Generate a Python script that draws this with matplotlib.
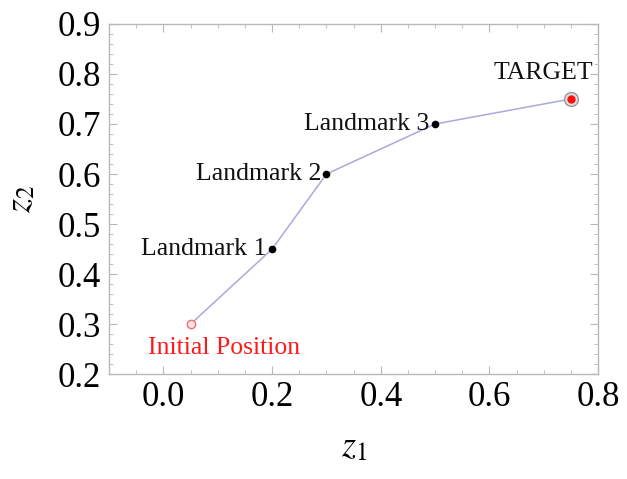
import matplotlib
matplotlib.use("Agg")
import matplotlib.pyplot as plt
from matplotlib.ticker import MultipleLocator

# path through the landmarks
z1 = [0.05, 0.2, 0.3, 0.5, 0.75]
z2 = [0.30, 0.45, 0.6, 0.7, 0.75]
names = ["Initial Position", "Landmark 1", "Landmark 2", "Landmark 3", "TARGET"]

plt.rcParams.update({
    "font.family": ["Liberation Serif", "DejaVu Serif"],
    "mathtext.fontset": "stix",
})

frame = "#b8b8b8"
fig = plt.figure(figsize=(6.27, 4.79), dpi=100)
ax = fig.add_axes([0.174, 0.219, 0.780, 0.731])

ax.plot(z1, z2, "-", color="#a9a9dd", lw=1.1, zorder=2)

# landmarks
ax.plot(z1[1:4], z2[1:4], "o", color="black", ms=4.5, zorder=3)
# start point: small open red circle
ax.plot(z1[0], z2[0], "o", mfc="#fde3e3", mec="#f07070", mew=1.0, ms=6, zorder=3)
# target: red dot with grey ring
ax.plot(z1[-1], z2[-1], "o", mfc="#dddddd", mec="#999999", mew=1.0, ms=10, zorder=3)
ax.plot(z1[-1], z2[-1], "o", color="#ff1010", ms=5, zorder=4)

lab_fs = 18.5
for i in (1, 2, 3):
    ax.annotate(names[i], (z1[i], z2[i]), xytext=(-4, 0), textcoords="offset points",
                ha="right", va="center", fontsize=lab_fs, color="#111111")
ax.annotate(names[0], (z1[0], z2[0]), xytext=(24, -17), textcoords="offset points",
            ha="center", va="center", fontsize=lab_fs, color="#ff1a1a")
ax.annotate(names[4], (z1[4], z2[4]), xytext=(-20, 19), textcoords="offset points",
            ha="center", va="center", fontsize=lab_fs, color="#111111")

ax.set_xlim(-0.1, 0.8)
ax.set_ylim(0.2, 0.9)
ax.xaxis.set_major_locator(MultipleLocator(0.2))
ax.xaxis.set_minor_locator(MultipleLocator(0.05))
ax.yaxis.set_major_locator(MultipleLocator(0.1))
ax.yaxis.set_minor_locator(MultipleLocator(0.02))
ax.xaxis.set_major_formatter(lambda v, p: f"{v:.1f}")
ax.yaxis.set_major_formatter(lambda v, p: f"{v:.1f}")

for s in ax.spines.values():
    s.set_color(frame)
    s.set_linewidth(1.0)
ax.tick_params(which="both", direction="in", top=True, right=True,
               color=frame, labelsize=25, labelcolor="black")
ax.tick_params(which="major", length=6, width=0.8)
ax.tick_params(which="minor", length=3, width=0.6)
ax.tick_params(axis="x", which="major", pad=5)
ax.tick_params(axis="y", which="major", pad=6)

ax.set_xlabel("$z_1$", fontsize=26, labelpad=12)
ax.set_ylabel("$z_2$", fontsize=26, labelpad=14)

fig.savefig("out.png", dpi=100)
